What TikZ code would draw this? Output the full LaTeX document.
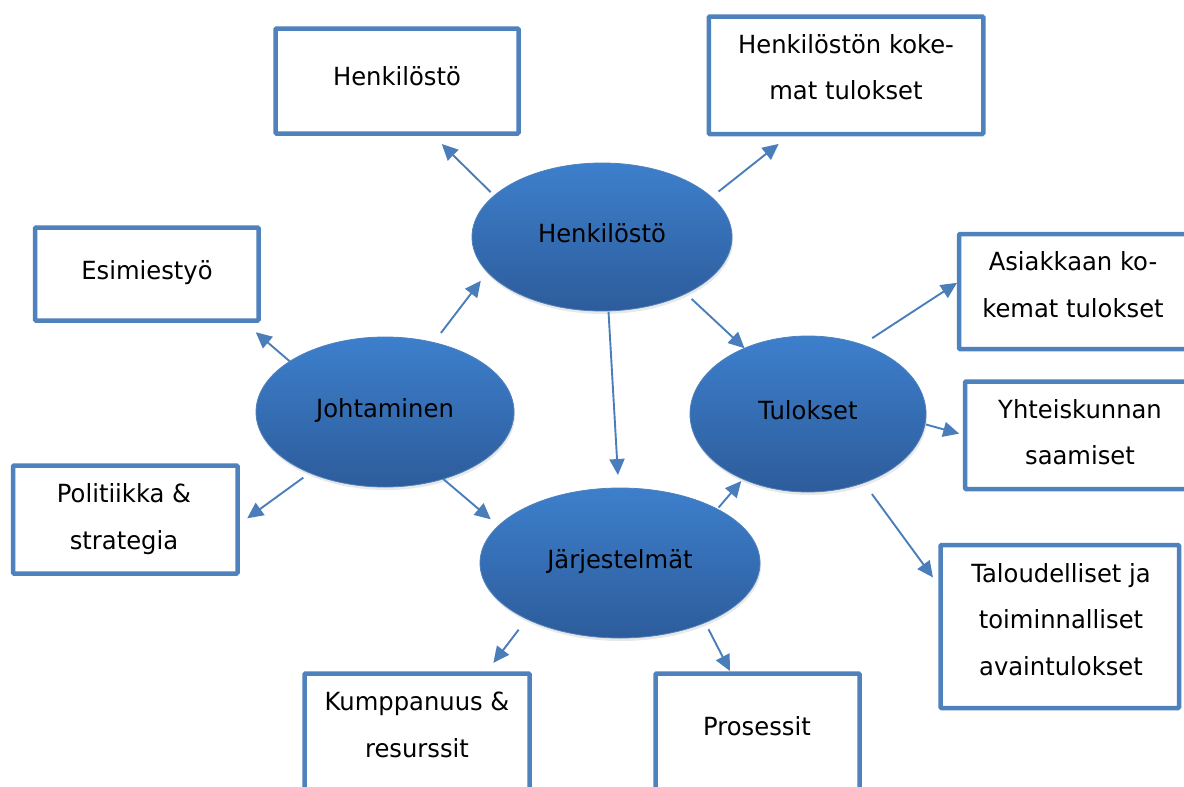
\documentclass[tikz,border=0pt]{standalone}
\usepackage{fontspec}
\setmainfont{DejaVu Sans}[FakeStretch=0.97]
\usetikzlibrary{arrows.meta,shapes.geometric,shadows}
\definecolor{boxblue}{HTML}{4F81BD}
\definecolor{arrowblue}{HTML}{4A7EBB}
\definecolor{ovaltop}{HTML}{3D7FCC}
\definecolor{ovalbottom}{HTML}{2D5C9B}
% centred multi-line text whose baseline is that of the first line
\newcommand\stack[1]{\begin{tabular}[t]{@{}c@{}}#1\end{tabular}}

\begin{document}
\begin{tikzpicture}[x=1pt,y=-1pt,
  box/.style={draw=boxblue, line width=4.5pt, rounded corners=1pt, fill=white, outer sep=0pt, inner sep=0pt},
  oval/.style={ellipse, draw=boxblue, line width=0.8pt, top color=ovaltop, bottom color=ovalbottom,
    outer sep=0pt, inner sep=0pt, font=\fontsize{25}{30}\selectfont, text height=19pt, text depth=9pt,
    drop shadow={shadow xshift=1pt, shadow yshift=-3pt, opacity=0.18}},
  boxtext/.style={font=\fontsize{25}{46.5}\selectfont, inner sep=0pt, anchor=base},
  arr/.style={draw=arrowblue, line width=1.9pt, -{Triangle[length=16pt,width=15pt]}}
]
\useasboundingbox (0,0) rectangle (1184,787);

% outer boxes
\node[box, minimum width=243pt, minimum height=105pt] (bHen) at (397,81) {};
\node[box, minimum width=274.5pt, minimum height=117.5pt] (bKok) at (846,75.25) {};
\node[box, minimum width=223.5pt, minimum height=93pt] (bEsi) at (146.75,274) {};
\node[box, minimum width=224.5pt, minimum height=108pt] (bPol) at (125.25,519.5) {};
\node[box, minimum width=228pt, minimum height=115pt] (bAsi) at (1073,291.5) {};
\node[box, minimum width=230pt, minimum height=107.5pt] (bYht) at (1080,435.25) {};
\node[box, minimum width=238.5pt, minimum height=163pt] (bTal) at (1059.75,626.5) {};
\node[box, minimum width=225pt, minimum height=136.5pt] (bKum) at (417,741.75) {};
\node[box, minimum width=204pt, minimum height=136.5pt] (bPro) at (757.5,741.75) {};

% box texts
\node[boxtext] (tHen) at (397,85) {Henkilöstö};
\node[boxtext] (tKok) at (846,53) {\stack{Henkilöstön koke-\\mat tulokset}};
\node[boxtext] (tEsi) at (147,279) {Esimiestyö};
\node[boxtext] (tPol) at (124,502.5) {\stack{Politiikka \&\\strategia}};
\node[boxtext] (tAsi) at (1073,270.5) {\stack{Asiakkaan ko-\\kemat tulokset}};
\node[boxtext] (tYht) at (1080,418) {\stack{Yhteiskunnan\\saamiset}};
\node[boxtext] (tTal) at (1061,582) {\stack{Taloudelliset ja\\toiminnalliset\\avaintulokset}};
\node[boxtext] (tKum) at (417,710.5) {\stack{Kumppanuus \&\\resurssit}};
\node[boxtext] (tPro) at (757,735) {Prosessit};

% central ovals
\node[oval, minimum width=260pt, minimum height=148pt] (hen) at (602,237) {Henkilöstö};
\node[oval, minimum width=258pt, minimum height=150pt] (joh) at (385,412) {Johtaminen};
\node[oval, minimum width=236pt, minimum height=156pt] (tul) at (808,414) {Tulokset};
\node[oval, minimum width=280pt, minimum height=150pt] (jar) at (620,563) {Järjestelmät};

% connectors
\draw[arr, shorten <=5pt, shorten >=15pt] (hen.159) -- (bHen.-57);
\draw[arr, shorten <=9pt, shorten >=16pt] (hen.20) -- (bKok.-133);
\draw[arr, shorten <=12pt, shorten >=11pt] (joh.55) -- (hen.197);
\draw[arr, shorten <=1pt, shorten >=13pt] (hen.-85) -- (jar.91);
\draw[arr, shorten <=8pt, shorten >=0pt] (hen.-34) -- (tul.134);
\draw[arr, shorten <=0pt, shorten >=18pt] (joh.152) -- (bEsi.-26);
\draw[arr, shorten <=8pt, shorten >=12pt] (joh.219) -- (bPol.-3.4);
\draw[arr, shorten <=0pt, shorten >=10pt] (joh.-49) -- (jar.163);
\draw[arr, shorten <=2pt, shorten >=2.6pt] (jar.29) -- (tul.225);
\draw[arr, shorten <=13.5pt, shorten >=13.4pt] (jar.211) -- (bKum.45.7);
\draw[arr, shorten <=7.6pt, shorten >=2.8pt] (jar.-35) -- (bPro.111.8);
\draw[arr, shorten <=12pt, shorten >=2.4pt] (tul.52) -- (bAsi.175);
\draw[arr, shorten <=1pt, shorten >=6pt] (tul.-5.4) -- (bYht.180);
\draw[arr, shorten <=14pt, shorten >=12.8pt] (tul.-51) -- (bTal.162);
\end{tikzpicture}
\end{document}
